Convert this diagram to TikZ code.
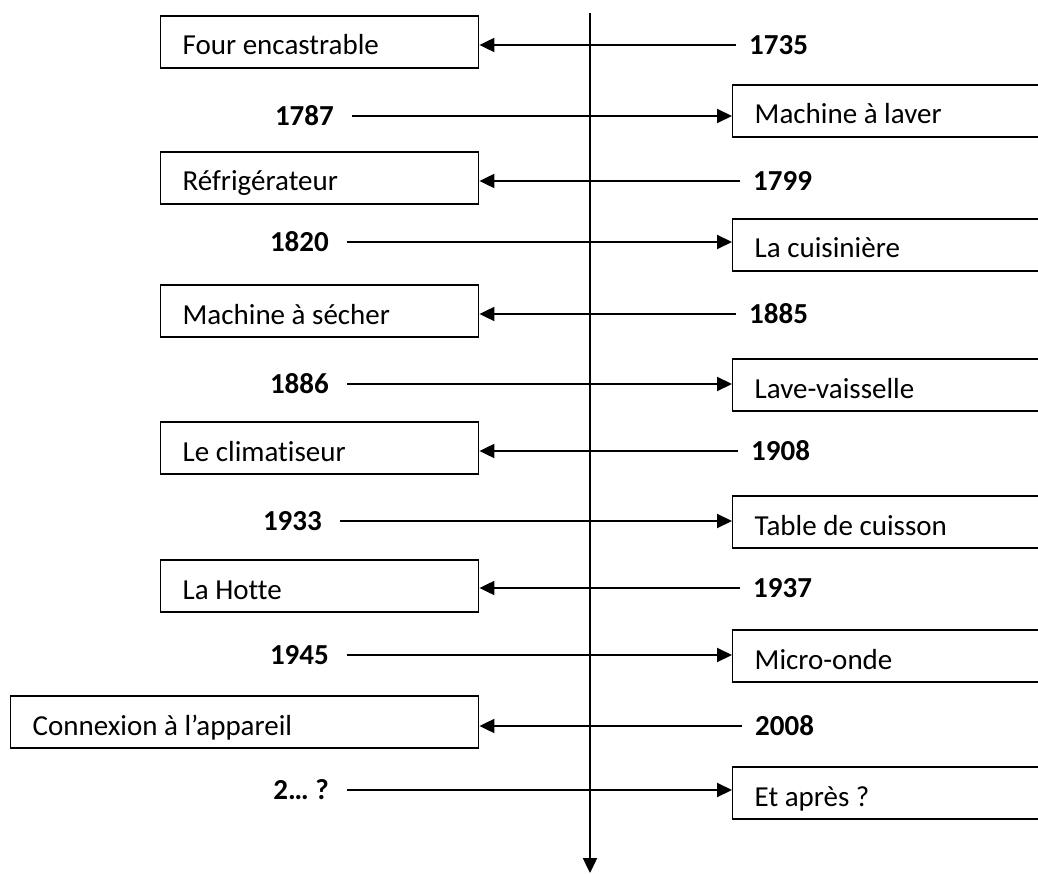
\documentclass[tikz,border=0pt]{standalone}
\usepackage{fontspec}
\setmainfont{Carlito}[Ligatures={NoCommon}]
\usetikzlibrary{arrows.meta}
\newcommand\txtsize{\fontsize{29}{34}\selectfont}
\begin{document}
\begin{tikzpicture}[x=1pt,y=-1pt,
		box/.style={draw, line width=1.4pt, minimum height=52pt, inner xsep=22pt, inner ysep=0pt, text height=26pt, text depth=0pt, align=flush left, anchor=west, font=\txtsize},
		lbox/.style={box, text width=274pt},
		rbox/.style={box, text width=270pt},
		yearl/.style={font=\txtsize\bfseries, inner xsep=18pt, anchor=east},
		yearr/.style={font=\txtsize\bfseries, inner xsep=13pt, anchor=west},
		conn/.style={line width=2pt, -{Triangle[length=15pt,width=14pt]}}]
			\useasboundingbox (0,0) rectangle (1038,874);
			% time axis
			\coordinate (axtop) at (590,13);
			\coordinate (axbot) at (590,873);
			\draw[line width=2.4pt, -{Triangle[length=15pt,width=14pt]}] (axtop) -- (axbot);
			% left side
			\node[lbox] (four) at (160,42) {Four encastrable};
			\node[yearr] (y1735) at (736,45) {1735};
			\draw[conn] (y1735.west) -- (y1735.west -| four.east);
			\node[lbox] (frigo) at (160,178) {Réfrigérateur};
			\node[yearr] (y1799) at (740,181) {1799};
			\draw[conn] (y1799.west) -- (y1799.west -| frigo.east);
			\node[lbox] (secher) at (160,311) {Machine à sécher};
			\node[yearr] (y1885) at (736,314) {1885};
			\draw[conn] (y1885.west) -- (y1885.west -| secher.east);
			\node[lbox] (clim) at (160,448) {Le climatiseur};
			\node[yearr] (y1908) at (738,451) {1908};
			\draw[conn] (y1908.west) -- (y1908.west -| clim.east);
			\node[lbox] (hotte) at (160,586) {La Hotte};
			\node[yearr] (y1937) at (740,588) {1937};
			\draw[conn] (y1937.west) -- (y1937.west -| hotte.east);
			\node[lbox, text width=424pt] (connex) at (10,722) {Connexion à l’appareil};
			\node[yearr] (y2008) at (742,726) {2008};
			\draw[conn] (y2008.west) -- (y2008.west -| connex.east);
			% right side
			\node[yearl] (y1787) at (352,116) {1787};
			\node[rbox] (laver) at (732,111) {Machine à laver};
			\draw[conn] (y1787.east) -- (y1787.east -| laver.west);
			\node[yearl] (y1820) at (347,242) {1820};
			\node[rbox] (cuisin) at (732,245) {La cuisinière};
			\draw[conn] (y1820.east) -- (y1820.east -| cuisin.west);
			\node[yearl] (y1886) at (347,384) {1886};
			\node[rbox] (vaiss) at (732,385) {Lave-vaisselle};
			\draw[conn] (y1886.east) -- (y1886.east -| vaiss.west);
			\node[yearl] (y1933) at (340,521) {1933};
			\node[rbox] (table) at (732,522) {Table de cuisson};
			\draw[conn] (y1933.east) -- (y1933.east -| table.west);
			\node[yearl] (y1945) at (347,655) {1945};
			\node[rbox] (micro) at (732,656) {Micro-onde};
			\draw[conn] (y1945.east) -- (y1945.east -| micro.west);
			\node[yearl] (yfut) at (347,790) {2… ?};
			\node[rbox] (apres) at (732,793) {Et après ?};
			\draw[conn] (yfut.east) -- (yfut.east -| apres.west);
		\end{tikzpicture}
\end{document}
